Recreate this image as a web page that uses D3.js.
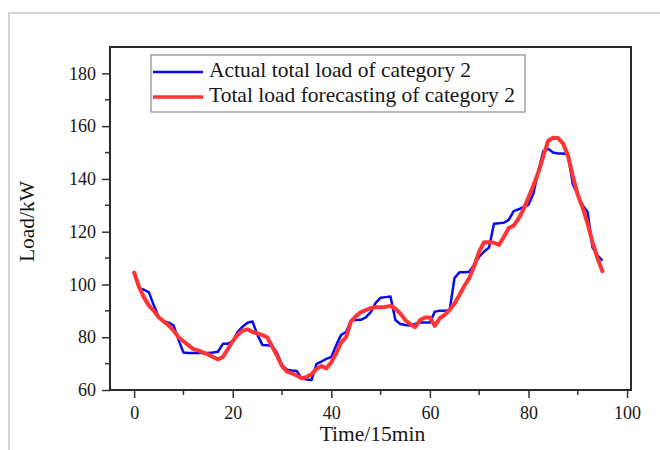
<!DOCTYPE html>
<html>
<head>
<meta charset="utf-8">
<script src="https://cdn.jsdelivr.net/npm/d3@7"></script>
<style>
  html, body { margin: 0; padding: 0; background: #fff; }
  svg { display: block; }
</style>
</head>
<body>
<svg id="chart" width="660" height="450"></svg>
<script>
// Time steps (15-minute intervals) 0..95
const timeSteps = d3.range(96);

// Actual total load of category 2 (kW)
const actualLoad = [
  104.3, 98.6, 98, 97, 92, 87.6, 86, 85.5, 84.5, 79,
  74.2, 74, 74, 74, 74, 74, 74.2, 74.5, 77.5, 77.5,
  78.5, 82, 84, 85.5, 86, 81, 77.1, 77, 76.7, 74,
  69.5, 67.7, 67.4, 67.2, 64.4, 64, 63.8, 69.9, 70.8, 71.8,
  72.5, 77, 80.9, 82, 86.3, 86.5, 86.6, 87.5, 89.5, 93,
  95, 95.2, 95.4, 86.5, 85, 84.6, 84.4, 85, 85.6, 85.6,
  85.6, 89.7, 90, 90, 90.2, 102.5, 104.6, 104.6, 104.8, 107.5,
  110.5, 112.5, 114, 123, 123.2, 123.4, 124.5, 127.8, 128.5, 129.4,
  130.2, 134.5, 143, 150.5, 151.4, 150, 149.6, 149.6, 149.3, 138,
  134, 130, 127.5, 114, 111, 109
];

// Total load forecasting of category 2 (kW)
const forecastLoad = [
  104.5, 99, 95, 92, 90, 87.5, 86, 84.5, 82.5, 80,
  78.5, 77, 75.5, 75, 74.2, 73.5, 72.5, 71.6, 72.5, 75.5,
  78.5, 80.9, 82.5, 83, 82, 81.5, 80.8, 80, 76.5, 73,
  69, 67, 66.3, 65.5, 64.4, 65, 66, 68, 69.1, 68.2,
  70.5, 74, 78, 80, 86, 88, 89.5, 90.3, 91, 91.4,
  91.4, 91.5, 91.9, 90.8, 89, 86.5, 85, 83.8, 86.5, 87.5,
  87.5, 84.3, 87.2, 88.5, 90.4, 92.8, 96, 99.5, 102.5, 107,
  112.5, 116, 116, 115.8, 115, 118, 121.4, 122.3, 125, 128.5,
  133, 137.5, 142.5, 148.5, 154.5, 155.6, 155.5, 153.5, 149, 141,
  134, 129, 123, 116, 110, 105
];

const xTicks = [0, 20, 40, 60, 80, 100];
const yTicks = [60, 80, 100, 120, 140, 160, 180];
const seriesNames = ["Actual total load of category 2", "Total load forecasting of category 2"];
const seriesColors = ["#0a0af0", "#ff3434"];

const svg = d3.select("#chart");
const font = "'Liberation Serif', 'Times New Roman', serif";
const ink = "#161616";

// Light page frame
svg.append("path")
  .attr("d", "M9,450 V13 H660")
  .attr("fill", "none")
  .attr("stroke", "#d4d4d4")
  .attr("stroke-width", 2);

const plot = { left: 110, right: 631, top: 47, bottom: 390 };

const x = d3.scaleLinear().domain([-4.9, 100.8]).range([plot.left, plot.right]);
const y = d3.scaleLinear().domain([60, 190]).range([plot.bottom, plot.top]);

// Minor ticks
const gMinor = svg.append("g").attr("stroke", "#333").attr("stroke-width", 1.5);
d3.range(10, 101, 20).forEach(v => {
  gMinor.append("line").attr("x1", x(v)).attr("x2", x(v))
    .attr("y1", plot.bottom).attr("y2", plot.bottom + 5);
});
d3.range(70, 190, 20).forEach(v => {
  gMinor.append("line").attr("y1", y(v)).attr("y2", y(v))
    .attr("x1", plot.left).attr("x2", plot.left - 5);
});

// Major axes
const xAxis = d3.axisBottom(x).tickValues(xTicks).tickSize(8).tickPadding(8).tickSizeOuter(0);
const yAxis = d3.axisLeft(y).tickValues(yTicks).tickSize(8).tickPadding(6).tickSizeOuter(0);

const gx = svg.append("g").attr("transform", `translate(0,${plot.bottom})`).call(xAxis);
const gy = svg.append("g").attr("transform", `translate(${plot.left},0)`).call(yAxis);
[gx, gy].forEach(g => {
  g.select(".domain").remove();
  g.selectAll(".tick line").attr("stroke", "#333").attr("stroke-width", 1.5);
  g.selectAll(".tick text")
    .attr("fill", ink)
    .style("font-family", font)
    .style("font-size", "18px");
});

// Plot frame
svg.append("rect")
  .attr("x", plot.left).attr("y", plot.top)
  .attr("width", plot.right - plot.left).attr("height", plot.bottom - plot.top)
  .attr("fill", "none")
  .attr("stroke", "#2a2a2a")
  .attr("stroke-width", 2);

// Data lines
const line = d3.line().x((d, i) => x(timeSteps[i])).y(d => y(d));

svg.append("path")
  .datum(actualLoad)
  .attr("d", line)
  .attr("fill", "none")
  .attr("stroke", seriesColors[0])
  .attr("stroke-width", 2.5)
  .attr("stroke-linejoin", "round");

svg.append("path")
  .datum(forecastLoad)
  .attr("d", line)
  .attr("fill", "none")
  .attr("stroke", seriesColors[1])
  .attr("stroke-width", 4)
  .attr("stroke-linejoin", "round")
  .attr("stroke-linecap", "round");

// Axis titles
svg.append("text")
  .attr("x", (plot.left + plot.right) / 2 + 2)
  .attr("y", 436)
  .attr("text-anchor", "middle")
  .attr("dominant-baseline", "middle")
  .attr("fill", ink)
  .style("font-family", font)
  .style("font-size", "21.5px")
  .text("Time/15min");

svg.append("text")
  .attr("transform", `translate(29,${(plot.top + plot.bottom) / 2 + 3}) rotate(-90)`)
  .attr("text-anchor", "middle")
  .attr("dominant-baseline", "middle")
  .attr("fill", ink)
  .style("font-family", font)
  .style("font-size", "21.5px")
  .text("Load/kW");

// Legend
const legend = svg.append("g");
legend.append("rect")
  .attr("x", 151).attr("y", 55)
  .attr("width", 374).attr("height", 57)
  .attr("fill", "#fff")
  .attr("stroke", "#8a8a8a")
  .attr("stroke-width", 1.2);

seriesNames.forEach((name, i) => {
  const cy = 72 + i * 25;
  legend.append("line")
    .attr("x1", 153).attr("x2", 203)
    .attr("y1", cy).attr("y2", cy)
    .attr("stroke", seriesColors[i])
    .attr("stroke-width", i === 0 ? 2.5 : 3.5);
  legend.append("text")
    .attr("x", 209).attr("y", cy)
    .attr("dominant-baseline", "middle")
    .attr("fill", ink)
    .style("font-family", font)
    .style("font-size", "21.5px")
    .text(name);
});
</script>
</body>
</html>
